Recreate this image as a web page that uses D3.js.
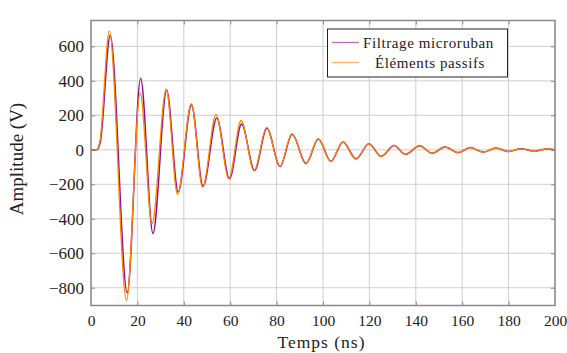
<!DOCTYPE html>
<html><head><meta charset="utf-8">
<script src="https://cdn.jsdelivr.net/npm/d3@7"></script>
<style>body{margin:0;background:#fff}svg{display:block}text{font-family:"Liberation Serif","DejaVu Serif",serif;fill:#222}</style>
</head><body><div id="c"></div>
<script>
// extrema: [time ns, amplitude V]
const microruban = [[0,0],[2.5,0],[4,45],[8.3,665],[15.6,-830],[21.4,415],[26.7,-485],[32.6,345],[37.6,-245],[43.3,262],[48.3,-212],[54.2,185],[59.7,-168],[64.9,150],[70.5,-120],[75.8,125],[81.5,-97],[86.7,90],[92.7,-80],[98,62],[103.4,-68],[108.6,45],[114.2,-52],[119.8,35],[125.1,-38],[130.6,25],[135.5,-26],[141.7,23],[147,-20],[152.6,16],[158.3,-16],[163.4,13],[169.1,-13],[174.6,10],[179.9,-10],[185.3,6],[191.4,-8],[196.5,5],[200,1]];
const passifs = [[0,0],[2.3,0],[3.9,55],[7.9,690],[15.3,-875],[21.2,328],[26.3,-428],[32.4,352],[37.3,-258],[43.2,268],[48.1,-218],[53.9,205],[59.4,-168],[64.7,170],[70.3,-122],[75.7,130],[81.4,-97],[86.6,93],[92.6,-82],[97.9,63],[103.3,-68],[108.5,45],[114.1,-54],[119.7,35],[125,-39],[130.5,26],[135.4,-26],[141.6,23],[146.9,-20],[152.5,17],[158.2,-16],[163.3,13],[169,-14],[174.5,10],[179.8,-10],[185.2,6],[191.3,-9],[196.4,6],[200,2]];
const xTicks = [0,20,40,60,80,100,120,140,160,180,200];
const yTicks = [-800,-600,-400,-200,0,200,400,600];
const seriesNames = ["Filtrage microruban","Éléments passifs"];
const seriesColors = ["#8e0a8e","#ff8400"];

const W=567,H=353, L=91,R=555,T=20.5,B=305.5;
const svg=d3.select("#c").append("svg").attr("width",W).attr("height",H);
const x=d3.scaleLinear().domain([0,200]).range([L,R]);
const y=d3.scaleLinear().domain([-903,750]).range([B,T]);

const g=svg.append("g");
g.selectAll(".gx").data(xTicks).join("line").attr("x1",d=>x(d)).attr("x2",d=>x(d)).attr("y1",T).attr("y2",B).attr("stroke","#cfcfcf").attr("stroke-width",1);
g.selectAll(".gy").data(yTicks).join("line").attr("y1",d=>y(d)).attr("y2",d=>y(d)).attr("x1",L).attr("x2",R).attr("stroke","#cfcfcf").attr("stroke-width",1);

const ax=svg.append("g").attr("transform",`translate(0,${B})`).call(d3.axisBottom(x).tickValues(xTicks).tickSize(-4).tickPadding(9).tickFormat(d3.format("d")));
const axT=svg.append("g").attr("transform",`translate(0,${T})`).call(d3.axisTop(x).tickValues(xTicks).tickSize(-4).tickFormat(""));
const ay=svg.append("g").attr("transform",`translate(${L},0)`).call(d3.axisLeft(y).tickValues(yTicks).tickSize(-4).tickPadding(7).tickFormat(d=>d<0?"\u2212"+Math.abs(d):d));
const ayR=svg.append("g").attr("transform",`translate(${R},0)`).call(d3.axisRight(y).tickValues(yTicks).tickSize(-4).tickFormat(""));
[ax,axT,ay,ayR].forEach(a=>{a.select(".domain").remove();a.selectAll(".tick line").attr("stroke","#8a8a8a");});
ax.selectAll("text").attr("font-size",15.5).attr("font-family","Liberation Serif").attr("fill","#222");
ay.selectAll("text").attr("font-size",17).attr("font-family","Liberation Serif").attr("fill","#222");
ax.selectAll(".tick line").filter(d=>d===0||d===200).remove();
axT.selectAll(".tick line").filter(d=>d===0||d===200).remove();

svg.append("clipPath").attr("id","cp").append("rect").attr("x",L).attr("y",T).attr("width",R-L).attr("height",B-T);
const line=d3.line().x(d=>x(d[0])).y(d=>y(d[1])).curve(d3.curveMonotoneX);
const lines=svg.append("g").attr("clip-path","url(#cp)");
lines.append("path").datum(microruban).attr("d",line).attr("fill","none").attr("stroke",seriesColors[0]).attr("stroke-width",1.5);
lines.append("path").datum(passifs).attr("d",line).attr("fill","none").attr("stroke",seriesColors[1]).attr("stroke-width",1.3);

svg.append("rect").attr("x",L).attr("y",T).attr("width",R-L).attr("height",B-T).attr("fill","none").attr("stroke","#8a8a8a").attr("stroke-width",1.5);

svg.append("text").attr("x",321.5).attr("y",348).attr("text-anchor","middle").attr("font-size",17.5).attr("letter-spacing",1).text("Temps (ns)");
svg.append("text").attr("transform",`translate(23,159) rotate(-90)`).attr("text-anchor","middle").attr("font-size",19).text("Amplitude (V)");

const lg=svg.append("g");
lg.append("rect").attr("x",327.5).attr("y",29).attr("width",180).attr("height",48).attr("fill","#fff").attr("stroke","#222").attr("stroke-width",1);
const ly=[42.5,62.5];
seriesNames.forEach((n,i)=>{
  lg.append("line").attr("x1",332).attr("x2",359).attr("y1",ly[i]).attr("y2",ly[i]).attr("stroke",seriesColors[i]).attr("stroke-opacity",0.6).attr("stroke-width",1.3);
});
lg.append("text").attr("x",363).attr("y",ly[0]+5).attr("font-size",15).attr("letter-spacing",0.6).text(seriesNames[0]);
lg.append("text").attr("x",430).attr("y",ly[1]+5).attr("text-anchor","middle").attr("font-size",15).attr("letter-spacing",0.6).text(seriesNames[1]);
</script></body></html>
